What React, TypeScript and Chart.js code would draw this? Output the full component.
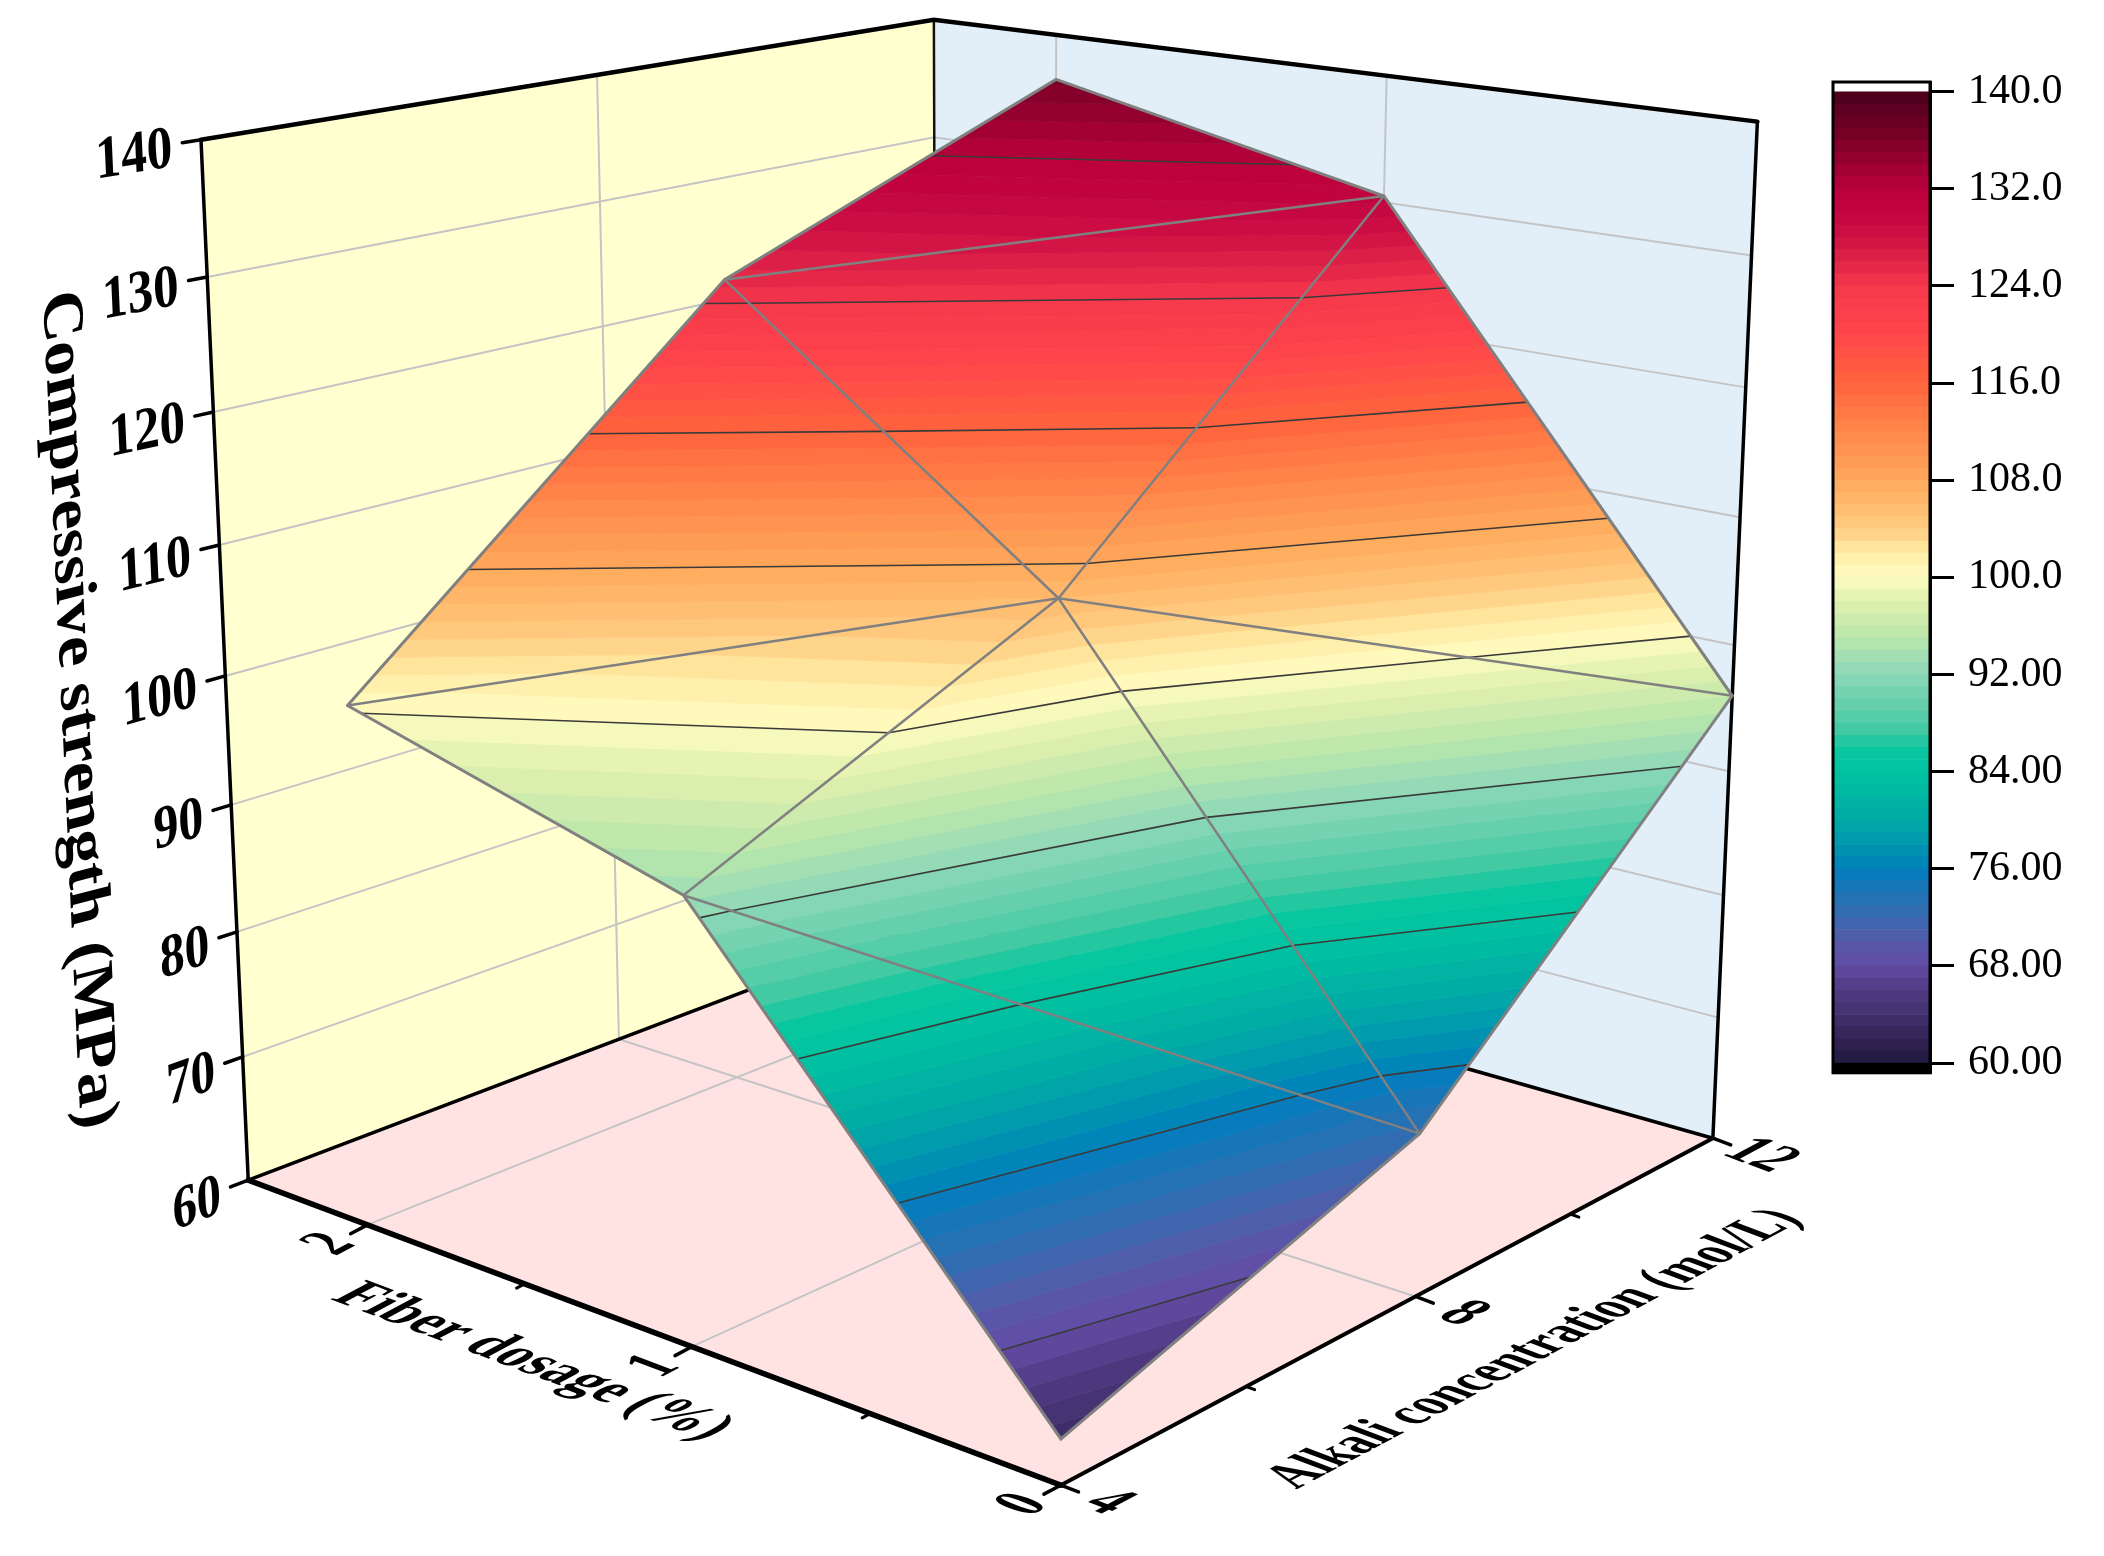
import React, { useEffect, useRef } from "react";
import { Chart, registerables } from "chart.js";

Chart.register(...registerables);

// ---------- data ----------
const fiberLevels = [0, 1, 2];
const alkaliLevels = [4, 8, 12];
const strengthAtFiber0 = [63.3, 72.5, 96];
const strengthAtFiber1 = [93.3, 106, 130.5];
const strengthAtFiber2 = [100.3, 125.5, 136.3];
const contourLevels = [68, 76, 84, 92, 100, 108, 116, 124, 132];
const strengthTicks = [60, 70, 80, 90, 100, 110, 120, 130, 140];
const fiberTicks = [0, 1, 2];
const fiberMinorTicks = [0.5, 1.5];
const alkaliTicks = [4, 8, 12];
const alkaliMinorTicks = [6, 10];
const colorbarTicks = [60, 68, 76, 84, 92, 100, 108, 116, 124, 132, 140];
const colorStops = [60, 62, 64, 66, 68, 70, 72, 74, 76, 77, 80, 84, 86, 87, 90, 92, 95, 98, 99, 100, 102, 104, 108, 112, 116, 120, 124, 128, 130, 132, 134, 136, 138, 140];
const colorReds = [33, 50, 66, 80, 100, 85, 55, 30, 0, 0, 0, 0, 10, 60, 110, 140, 185, 225, 235, 255, 255, 255, 255, 255, 255, 255, 245, 205, 195, 185, 155, 125, 100, 70];
const colorGreens = [25, 35, 48, 58, 75, 90, 105, 115, 125, 140, 170, 195, 200, 200, 210, 215, 230, 240, 245, 255, 235, 205, 168, 135, 100, 70, 55, 16, 5, 0, 0, 0, 0, 0];
const colorBlues = [65, 85, 110, 130, 165, 170, 175, 182, 190, 180, 165, 160, 160, 160, 175, 185, 170, 175, 180, 195, 165, 130, 90, 75, 60, 75, 75, 68, 65, 60, 50, 40, 35, 25];

const F_MAX = 2.4;
const A_MIN = 4;
const A_MAX = 12;
const Z_MIN = 60;
const Z_MAX = 140;

const FONT_FAMILY = '"Liberation Serif", serif';
const SERIES = [strengthAtFiber0, strengthAtFiber1, strengthAtFiber2];

// ---------- camera: fitted from where the cube's corners sit in the picture ----------
const cameraAnchors: number[][] = [
  [1, 0, 0, 246, 1181],
  [0, 0, 0, 1060, 1485],
  [0, 1, 0, 1711, 1138],
  [1, 1, 0, 941, 918],
  [1, 0, 1, 204, 139],
  [0, 1, 1, 1760, 122],
  [1, 1, 1, 929, 20],
];

function fitCamera(): number[] {
  const rows: number[][] = [];
  const rhs: number[] = [];
  for (const [u, v, w, px, py] of cameraAnchors) {
    const x = px / 1000;
    const y = py / 1000;
    rows.push([u, v, w, 1, 0, 0, 0, 0, -x * u, -x * v, -x * w]);
    rhs.push(x);
    rows.push([0, 0, 0, 0, u, v, w, 1, -y * u, -y * v, -y * w]);
    rhs.push(y);
  }
  const n = 11;
  const m: number[][] = [];
  for (let i = 0; i < n; i++) {
    const r: number[] = [];
    for (let j = 0; j < n; j++) {
      let s = 0;
      for (let k = 0; k < rows.length; k++) s += rows[k][i] * rows[k][j];
      r.push(s);
    }
    let b = 0;
    for (let k = 0; k < rows.length; k++) b += rows[k][i] * rhs[k];
    r.push(b);
    m.push(r);
  }
  for (let i = 0; i < n; i++) {
    let best = i;
    for (let r = i + 1; r < n; r++) if (Math.abs(m[r][i]) > Math.abs(m[best][i])) best = r;
    [m[i], m[best]] = [m[best], m[i]];
    for (let r = 0; r < n; r++) {
      if (r === i) continue;
      const f = m[r][i] / m[i][i];
      for (let c = i; c <= n; c++) m[r][c] -= f * m[i][c];
    }
  }
  return m.map((r, i) => r[n] / r[i]);
}
const CAM = fitCamera();

type P = { x: number; y: number };
function project(f: number, a: number, z: number): P {
  const u = f / F_MAX;
  const v = (a - A_MIN) / (A_MAX - A_MIN);
  const w = (z - Z_MIN) / (Z_MAX - Z_MIN);
  const d = CAM[8] * u + CAM[9] * v + CAM[10] * w + 1;
  return {
    x: (1000 * (CAM[0] * u + CAM[1] * v + CAM[2] * w + CAM[3])) / d,
    y: (1000 * (CAM[4] * u + CAM[5] * v + CAM[6] * w + CAM[7])) / d,
  };
}
function unit(from: P, to: P): P {
  const dx = to.x - from.x;
  const dy = to.y - from.y;
  const l = Math.hypot(dx, dy) || 1;
  return { x: dx / l, y: dy / l };
}

// ---------- colours ----------
function colorAt(v: number): string {
  let i = 0;
  while (i < colorStops.length - 2 && v > colorStops[i + 1]) i++;
  const t = Math.min(1, Math.max(0, (v - colorStops[i]) / (colorStops[i + 1] - colorStops[i])));
  const mix = (c: number[]) => Math.round(c[i] + (c[i + 1] - c[i]) * t);
  return `rgb(${mix(colorReds)},${mix(colorGreens)},${mix(colorBlues)})`;
}

// ---------- surface geometry ----------
type V3 = [number, number, number];
function vertex(i: number, j: number): V3 {
  return [fiberLevels[i], alkaliLevels[j], SERIES[i][j]];
}
function buildTriangles(): V3[][] {
  return [
    [vertex(2, 1), vertex(2, 2), vertex(1, 2)],
    [vertex(2, 1), vertex(1, 2), vertex(1, 1)],
    [vertex(2, 0), vertex(2, 1), vertex(1, 1)],
    [vertex(2, 0), vertex(1, 1), vertex(1, 0)],
    [vertex(1, 1), vertex(1, 2), vertex(0, 2)],
    [vertex(1, 1), vertex(0, 2), vertex(0, 1)],
    [vertex(1, 0), vertex(1, 1), vertex(0, 1)],
    [vertex(1, 0), vertex(0, 1), vertex(0, 0)],
  ];
}
function clip(poly: V3[], level: number, keepAbove: boolean): V3[] {
  const out: V3[] = [];
  for (let i = 0; i < poly.length; i++) {
    const a = poly[i];
    const b = poly[(i + 1) % poly.length];
    const ina = keepAbove ? a[2] >= level : a[2] <= level;
    const inb = keepAbove ? b[2] >= level : b[2] <= level;
    if (ina) out.push(a);
    if (ina !== inb) {
      const t = (level - a[2]) / (b[2] - a[2]);
      out.push([a[0] + (b[0] - a[0]) * t, a[1] + (b[1] - a[1]) * t, level]);
    }
  }
  return out;
}
function contourSegment(tri: V3[], level: number): V3[] {
  const out: V3[] = [];
  for (let i = 0; i < 3; i++) {
    const a = tri[i];
    const b = tri[(i + 1) % 3];
    if ((a[2] - level) * (b[2] - level) < 0) {
      const t = (level - a[2]) / (b[2] - a[2]);
      out.push([a[0] + (b[0] - a[0]) * t, a[1] + (b[1] - a[1]) * t, level]);
    }
  }
  return out;
}

// ---------- dataset builders ----------
const line = (pts: P[], color: string, width: number) => ({
  type: "scatter",
  data: pts,
  showLine: true,
  borderColor: color,
  borderWidth: width,
  borderCapStyle: "round",
  pointRadius: 0,
  tension: 0,
  clip: false,
});
const polygon = (pts: P[], color: string) => ({
  type: "scatter",
  data: pts,
  showLine: false,
  pointRadius: 0,
  polygonFill: color,
  clip: false,
});

function buildDatasets() {
  const ds: any[] = [];
  const WALL_Z = [Z_MIN, Z_MAX];
  // walls and floor
  ds.push(polygon([project(F_MAX, A_MIN, Z_MIN), project(F_MAX, A_MIN, Z_MAX), project(F_MAX, A_MAX, Z_MAX), project(F_MAX, A_MAX, Z_MIN)], "#FFFFCF"));
  ds.push(polygon([project(0, A_MAX, Z_MIN), project(0, A_MAX, Z_MAX), project(F_MAX, A_MAX, Z_MAX), project(F_MAX, A_MAX, Z_MIN)], "#E3EFF8"));
  ds.push(polygon([project(0, A_MIN, Z_MIN), project(F_MAX, A_MIN, Z_MIN), project(F_MAX, A_MAX, Z_MIN), project(0, A_MAX, Z_MIN)], "#FFE3E3"));
  // grid
  const GRID = "#C4C4C6";
  for (const z of strengthTicks.slice(1, -1)) {
    ds.push(line([project(F_MAX, A_MIN, z), project(F_MAX, A_MAX, z), project(0, A_MAX, z)], GRID, 2));
  }
  ds.push(line(WALL_Z.map((z) => project(F_MAX, 8, z)), GRID, 2));
  ds.push(line([project(F_MAX, 8, Z_MIN), project(0, 8, Z_MIN)], GRID, 2));
  for (const f of [1, 2]) {
    ds.push(line(WALL_Z.map((z) => project(f, A_MAX, z)), GRID, 2));
    ds.push(line([project(f, A_MIN, Z_MIN), project(f, A_MAX, Z_MIN)], GRID, 2));
  }
  // box edges
  ds.push(line([project(F_MAX, A_MAX, Z_MIN), project(F_MAX, A_MAX, Z_MAX)], "#111", 2.5));
  ds.push(line([project(F_MAX, A_MIN, Z_MIN), project(F_MAX, A_MAX, Z_MIN), project(0, A_MAX, Z_MIN)], "#000", 3.5));
  ds.push(line([project(F_MAX, A_MIN, Z_MAX), project(F_MAX, A_MAX, Z_MAX), project(0, A_MAX, Z_MAX)], "#000", 4.5));
  ds.push(line([project(F_MAX, A_MIN, Z_MIN), project(F_MAX, A_MIN, Z_MAX)], "#000", 3.5));
  ds.push(line([project(0, A_MAX, Z_MIN), project(0, A_MAX, Z_MAX)], "#000", 3.5));
  ds.push(line([project(F_MAX, A_MIN, Z_MIN), project(0, A_MIN, Z_MIN)], "#000", 5.5));
  ds.push(line([project(0, A_MIN, Z_MIN), project(0, A_MAX, Z_MIN)], "#000", 4));
  // axis ticks
  const aDir = unit(project(0, A_MIN, Z_MIN), project(0, A_MAX, Z_MIN));
  const fDir = unit(project(F_MAX, A_MIN, Z_MIN), project(0, A_MIN, Z_MIN));
  const tick = (p: P, d: P, len: number, w: number) => line([p, { x: p.x + d.x * len, y: p.y + d.y * len }], "#000", w);
  for (const f of fiberTicks) ds.push(tick(project(f, A_MIN, Z_MIN), { x: -aDir.x, y: -aDir.y }, 19, 3.5));
  for (const f of fiberMinorTicks) ds.push(tick(project(f, A_MIN, Z_MIN), { x: -aDir.x, y: -aDir.y }, 9, 3));
  for (const a of alkaliTicks) ds.push(tick(project(0, a, Z_MIN), fDir, 19, 3.5));
  for (const a of alkaliMinorTicks) ds.push(tick(project(0, a, Z_MIN), fDir, 9, 3));
  for (const z of strengthTicks) {
    const p = project(F_MAX, A_MIN, z);
    const back = unit(project(F_MAX, 8, z), p);
    ds.push(tick(p, back, 19, 3.5));
  }
  // surface bands
  const tris = buildTriangles();
  for (let lo = Z_MIN; lo < Z_MAX; lo++) {
    for (const tri of tris) {
      const piece = clip(clip(tri, lo, true), lo + 1, false);
      if (piece.length >= 3) ds.push(polygon(piece.map((v) => project(v[0], v[1], v[2])), colorAt(lo + 0.5)));
    }
  }
  // contour lines
  for (const level of contourLevels) {
    for (const tri of tris) {
      const seg = contourSegment(tri, level);
      if (seg.length === 2) ds.push(line(seg.map((v) => project(v[0], v[1], v[2])), "#3A3A3A", 1.6));
    }
  }
  // mesh
  const edge = (i: number, j: number, k: number, l: number, w: number) => {
    const a = vertex(i, j);
    const b = vertex(k, l);
    ds.push(line([project(a[0], a[1], a[2]), project(b[0], b[1], b[2])], "#808080", w));
  };
  edge(2, 0, 1, 1, 2.5);
  edge(2, 1, 1, 2, 2.5);
  edge(2, 1, 1, 1, 2.5);
  edge(1, 0, 1, 1, 2.5);
  edge(1, 1, 1, 2, 2.5);
  edge(1, 1, 0, 2, 2.5);
  edge(1, 1, 0, 1, 2.5);
  edge(1, 0, 0, 1, 2.5);
  const outline: number[][] = [[2, 0], [2, 1], [2, 2], [1, 2], [0, 2], [0, 1], [0, 0], [1, 0], [2, 0]];
  ds.push(line(outline.map(([i, j]) => {
    const v = vertex(i, j);
    return project(v[0], v[1], v[2]);
  }), "#808080", 3));
  const total = ds.length;
  ds.forEach((d, i) => (d.order = total - i));
  return ds;
}

// ---------- plugins ----------
const polygonPlugin = {
  id: "polygonFill",
  beforeDatasetDraw(chart: any, args: any) {
    const ds = chart.data.datasets[args.index];
    if (!ds.polygonFill) return;
    const pts = args.meta.data;
    const ctx = chart.ctx;
    ctx.save();
    ctx.beginPath();
    pts.forEach((p: any, i: number) => (i ? ctx.lineTo(p.x, p.y) : ctx.moveTo(p.x, p.y)));
    ctx.closePath();
    ctx.fillStyle = ds.polygonFill;
    ctx.strokeStyle = ds.polygonFill;
    ctx.lineWidth = 0.7;
    ctx.lineJoin = "round";
    ctx.fill();
    ctx.stroke();
    ctx.restore();
  },
};

function placeText(ctx: any, text: string, o: P, u: P, v: P, su: number, sv: number, size: number, align = "center") {
  ctx.save();
  ctx.transform(u.x * su, u.y * su, v.x * sv, v.y * sv, o.x, o.y);
  ctx.font = `bold ${size}px ${FONT_FAMILY}`;
  ctx.fillStyle = "#000";
  ctx.textAlign = align;
  ctx.textBaseline = "middle";
  ctx.fillText(text, 0, 0);
  ctx.restore();
}

const labelPlugin = {
  id: "axisText",
  afterDatasetsDraw(chart: any) {
    const ctx = chart.ctx;
    const xs = chart.scales.x;
    const ys = chart.scales.y;
    const px = (p: P): P => ({ x: xs.getPixelForValue(p.x), y: ys.getPixelForValue(p.y) });
    const aDir = unit(project(0, A_MIN, Z_MIN), project(0, A_MAX, Z_MIN));
    const fDir = unit(project(F_MAX, A_MIN, Z_MIN), project(0, A_MIN, Z_MIN));
    const aDown = { x: -aDir.x, y: -aDir.y };
    for (const z of strengthTicks) {
      const p = px(project(F_MAX, A_MIN, z));
      const along = unit(project(F_MAX, A_MIN, z), project(F_MAX, 8, z));
      const down = unit(project(F_MAX, A_MIN, Z_MAX), project(F_MAX, A_MIN, Z_MIN));
      placeText(ctx, String(z), { x: p.x - along.x * 29, y: p.y - along.y * 29 + 6 }, along, down, 0.96, 1.12, 54, "right");
    }
    for (const f of fiberTicks) {
      const p = px(project(f, A_MIN, Z_MIN));
      placeText(ctx, String(f), { x: p.x - aDir.x * 42, y: p.y - aDir.y * 42 }, aDir, fDir, 1, 1.3, 50);
    }
    for (const a of alkaliTicks) {
      const p = px(project(0, a, Z_MIN));
      placeText(ctx, String(a), { x: p.x + fDir.x * 50, y: p.y + fDir.y * 50 }, fDir, aDown, 1.1, 1.25, 50);
    }
    placeText(ctx, "Fiber dosage (%)", { x: 532, y: 1362 }, fDir, aDown, 1.09, 1.25, 50);
    placeText(ctx, "Alkali concentration (mol/L)", { x: 1535, y: 1349 }, aDir, fDir, 0.94, 1.25, 50);
    placeText(ctx, "Compressive strength (MPa)", { x: 77, y: 710 }, { x: 0.045, y: 0.999 }, { x: -0.97, y: 0.25 }, 1.14, 1, 60);
  },
};

const framePlugin = {
  id: "barFrame",
  afterDraw(chart: any) {
    const { left, top, right, bottom } = chart.chartArea;
    const ctx = chart.ctx;
    ctx.save();
    ctx.strokeStyle = "#000";
    ctx.lineWidth = 3;
    ctx.strokeRect(left, top, right - left, bottom - top);
    ctx.restore();
  },
};

function buildColorbarDatasets() {
  const out: any[] = [];
  out.push({ data: [[59.2, 60]], backgroundColor: "#000" });
  for (let lo = Z_MIN; lo < Z_MAX; lo++) {
    out.push({ data: [[lo, lo + 1]], backgroundColor: colorAt(lo + 0.5), borderWidth: 0 });
  }
  out.push({ data: [[140, 140.8]], backgroundColor: "#fff" });
  return out;
}

export default function App() {
  const surfaceRef = useRef<HTMLCanvasElement | null>(null);
  const barRef = useRef<HTMLCanvasElement | null>(null);

  useEffect(() => {
    const surface = new Chart(surfaceRef.current as any, {
      type: "scatter",
      data: { datasets: buildDatasets() as any },
      plugins: [polygonPlugin, labelPlugin],
      options: {
        responsive: false,
        animation: false,
        layout: { padding: 0 },
        plugins: { legend: { display: false }, tooltip: { enabled: false } },
        events: [],
        scales: {
          x: { type: "linear", min: 0, max: 2104, display: false },
          y: { type: "linear", min: 0, max: 1556, reverse: true, display: false },
        },
      } as any,
    });
    const bar = new Chart(barRef.current as any, {
      type: "bar",
      data: { labels: ["strength"], datasets: buildColorbarDatasets() as any },
      plugins: [framePlugin],
      options: {
        responsive: false,
        animation: false,
        layout: { padding: { left: 33, top: 42, bottom: 39, right: 0 } },
        plugins: { legend: { display: false }, tooltip: { enabled: false } },
        events: [],
        datasets: { bar: { grouped: false, barPercentage: 1, categoryPercentage: 1 } },
        scales: {
          x: { display: false },
          y: {
            position: "right",
            min: 59.2,
            max: 140.8,
            afterBuildTicks: (s: any) => {
              s.ticks = colorbarTicks.map((value) => ({ value }));
            },
            afterFit: (s: any) => {
              s.width = 174;
            },
            grid: { drawOnChartArea: false, color: "#000", lineWidth: 3, tickLength: 24 },
            border: { color: "#000", width: 3 },
            ticks: {
              autoSkip: false,
              padding: 14,
              color: "#000",
              font: { family: FONT_FAMILY, size: 42 },
              callback: (v: any) => (v >= 100 ? Number(v).toFixed(1) : Number(v).toFixed(2)),
            },
          },
        },
      } as any,
    });
    return () => {
      surface.destroy();
      bar.destroy();
    };
  }, []);

  return (
    <div style={{ position: "absolute", left: 0, top: 0, width: 2104, height: 1556, background: "#fff", overflow: "hidden" }}>
      <canvas ref={surfaceRef} width={2104} height={1556} style={{ position: "absolute", left: 0, top: 0 }} />
      <canvas ref={barRef} width={304} height={1072} style={{ position: "absolute", left: 1800, top: 40 }} />
    </div>
  );
}
